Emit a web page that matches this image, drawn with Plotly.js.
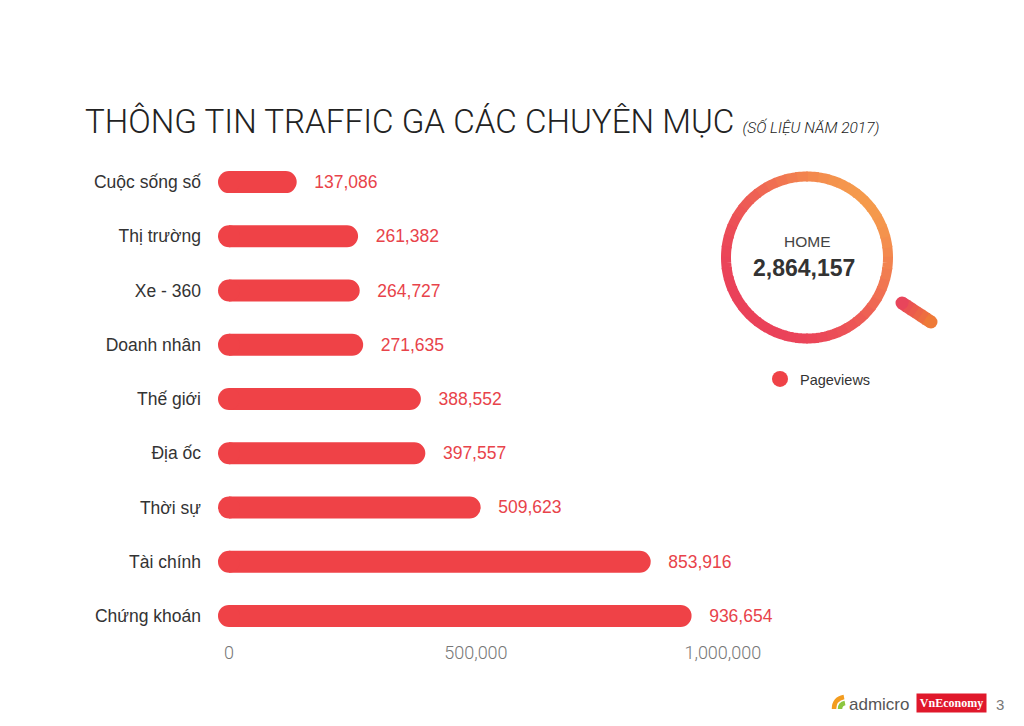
<!DOCTYPE html>
<html>
<head>
<meta charset="utf-8">
<script src="https://cdn.plot.ly/plotly-3.0.1.min.js"></script>
<style>html,body{margin:0;padding:0;background:#fff;}#chart{width:1024px;height:726px;}</style>
</head>
<body>
<div id="chart"></div>
<script>
// ---- data ----
const categories = ["Cuộc sống số", "Thị trường", "Xe - 360", "Doanh nhân", "Thế giới", "Địa ốc", "Thời sự", "Tài chính", "Chứng khoán"];
const pageviews = [137086, 261382, 264727, 271635, 388552, 397557, 509623, 853916, 936654];
const xTickVals = [0, 500000, 1000000];
const homeLabel = "HOME";
const homePageviews = 2864157;
const seriesName = "Pageviews";
const titleText = "THÔNG TIN TRAFFIC GA CÁC CHUYÊN MỤC";
const subtitleText = "(SỐ LIỆU NĂM 2017)";

// ---- styles ----
const BAR = "#ef4247";
const W = 1024, H = 726;
const px = v => v / W, py = v => 1 - v / H;

function hex(c){return [parseInt(c.slice(1,3),16),parseInt(c.slice(3,5),16),parseInt(c.slice(5,7),16)];}
function mix(a,b,t){const A=hex(a),B=hex(b);return "rgb("+A.map((v,i)=>Math.round(v+(B[i]-v)*t)).join(",")+")";}
const shapes = [];
// magnifier ring (gradient approximated by segments)
const cx = 807, cy = 257.5, R = 81;
const N = 48;
for (let i = 0; i < N; i++) {
  const a0 = (i / N) * 2 * Math.PI - 0.01, a1 = ((i + 1) / N) * 2 * Math.PI + 0.01;
  let d = "";
  for (let k = 0; k <= 6; k++) {
    const a = a0 + (a1 - a0) * k / 6;
    d += (k ? " L " : "M ") + (cx + R * Math.cos(a)).toFixed(2) + "," + (cy - R * Math.sin(a)).toFixed(2);
  }
  const am = (a0 + a1) / 2;
  let t = (Math.cos(am - Math.PI / 4) + 1) / 2;
  t = Math.pow(t, 1.6);
  shapes.push({type: "path", xref: "x2", yref: "y2", path: d, line: {color: mix("#ea4159", "#f59a4c", t), width: 10}});
}
// magnifier handle
const A = [902, 303], B = [931, 322], hw = 13;
const M = 6;
for (let i = 0; i < M; i++) {
  const t0 = i / M - 0.02, t1 = (i + 1) / M + 0.02;
  const p0 = [A[0] + (B[0] - A[0]) * t0, A[1] + (B[1] - A[1]) * t0];
  const p1 = [A[0] + (B[0] - A[0]) * t1, A[1] + (B[1] - A[1]) * t1];
  shapes.push({type: "path", xref: "x2", yref: "y2", path: "M " + p0.join(",") + " L " + p1.join(","), line: {color: mix("#e8455b", "#ee7a38", (i + 0.5) / M), width: hw}});
}
[[A, "#e8455b"], [B, "#ee7a38"]].forEach(([p, c]) => {
  shapes.push({type: "circle", xref: "x2", yref: "y2", x0: p[0] - hw / 2, x1: p[0] + hw / 2, y0: p[1] - hw / 2, y1: p[1] + hw / 2, fillcolor: c, line: {width: 0}});
});
// admicro logo mark
shapes.push({type: "path", xref: "x2", yref: "y2", path: "M 834,709 Q 834,699 844,697", line: {color: "#f39c1f", width: 4.5}});
shapes.push({type: "path", xref: "x2", yref: "y2", path: "M 840,709 Q 840,704 845,703", line: {color: "#8cc63f", width: 4.5}});

const traces = [
  {
    type: "bar", orientation: "h", x: pageviews, y: categories,
    marker: {color: BAR, cornerradius: 11},
    texttemplate: "\u00a0\u00a0\u00a0%{x:,}", textposition: "outside",
    textfont: {family: "Liberation Sans, Arial, sans-serif", size: 17.5, color: "#e8434a"},
    constraintext: "none", cliponaxis: false, showlegend: false, hoverinfo: "none",
    xaxis: "x", yaxis: "y"
  },
  {
    type: "scatter", mode: "markers", x: categories.map(() => 0), y: categories,
    marker: {color: BAR, size: 22, line: {width: 0}}, name: seriesName,
    cliponaxis: false, showlegend: true, hoverinfo: "none", xaxis: "x", yaxis: "y"
  }
];

const layout = {
  width: W, height: H,
  margin: {l: 0, r: 0, t: 0, b: 0},
  paper_bgcolor: "#fff", plot_bgcolor: "rgba(0,0,0,0)",
  font: {family: "Liberation Sans, Arial, sans-serif", color: "#333"},
  bargap: 0.594,
  title: {
    text: titleText + " <span style=\"font-size:15.5px\"><i>" + subtitleText + "</i></span>",
    x: px(85), xanchor: "left", xref: "paper", y: py(121), yanchor: "middle", yref: "paper",
    font: {family: "Roboto, Liberation Sans, sans-serif", size: 33.2, color: "#222", weight: 300}
  },
  xaxis: {
    domain: [px(229), px(871)], range: [0, 1300000], anchor: "y",
    tickvals: xTickVals, tickformat: ",", showgrid: false, zeroline: false, showline: false,
    ticks: "", tickfont: {size: 18, color: "#777", family: "Roboto, Liberation Sans, sans-serif", weight: 300},
    ticklabelstandoff: -3,
    fixedrange: true
  },
  yaxis: {
    domain: [py(643), py(155)], type: "category", range: [categories.length - 0.5, -0.5], anchor: "x",
    showgrid: false, zeroline: false, showline: false, ticks: "",
    ticklabelstandoff: 27,
    tickfont: {size: 17.5, color: "#333"}, fixedrange: true
  },
  xaxis2: {domain: [0, 1], range: [0, W], anchor: "y2", visible: false, fixedrange: true},
  yaxis2: {domain: [0, 1], range: [H, 0], anchor: "x2", visible: false, fixedrange: true},
  legend: {x: px(760), xanchor: "left", y: py(379), yanchor: "middle", font: {size: 14.5, color: "#333"}, bgcolor: "rgba(0,0,0,0)"},
  shapes: shapes,
  annotations: [
    {xref: "paper", yref: "paper", x: px(807), y: py(242), text: homeLabel, showarrow: false, xanchor: "center", yanchor: "middle", font: {size: 15.5, color: "#444"}},
    {xref: "paper", yref: "paper", x: px(804), y: py(268), text: homePageviews.toLocaleString("en-US"), showarrow: false, xanchor: "center", yanchor: "middle", font: {size: 23, color: "#333", weight: "bold"}},
    {xref: "paper", yref: "paper", x: px(847), y: py(704), text: "admicro", showarrow: false, xanchor: "left", yanchor: "middle", font: {size: 17, color: "#555"}},
    {xref: "paper", yref: "paper", x: px(951.5), y: py(703), text: "<b>VnEconomy</b>", showarrow: false, xanchor: "center", yanchor: "middle", width: 69, height: 18, borderpad: 0, bgcolor: "#e0182b", font: {family: "Liberation Serif, serif", size: 12, color: "#fff"}},
    {xref: "paper", yref: "paper", x: px(994), y: py(704), text: "3", showarrow: false, xanchor: "left", yanchor: "middle", font: {size: 15, color: "#777"}}
  ]
};

Plotly.newPlot("chart", traces, layout, {displayModeBar: false, staticPlot: true});
</script>
</body>
</html>
